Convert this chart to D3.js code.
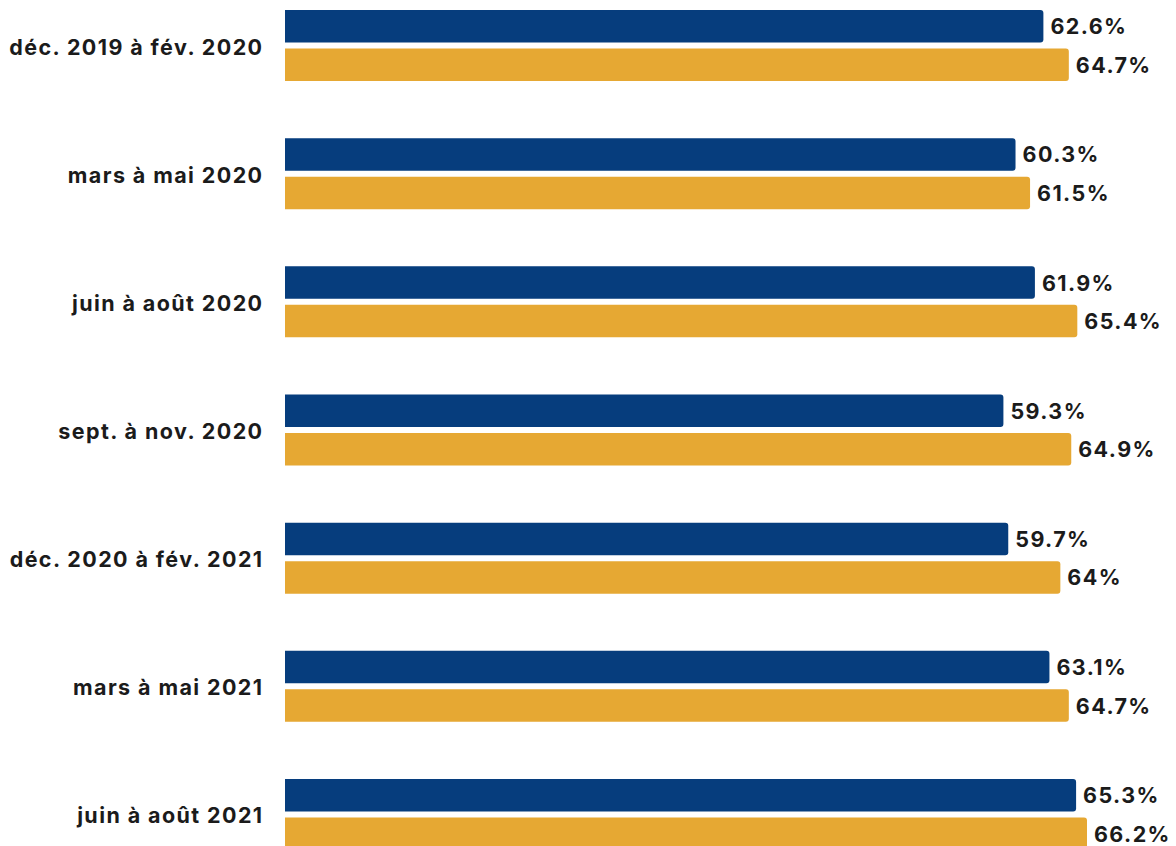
<!DOCTYPE html>
<html lang="fr">
<head>
<meta charset="utf-8">
<script src="https://cdn.jsdelivr.net/npm/d3@7"></script>
<style>
  html, body { margin: 0; padding: 0; background: #ffffff; }
  svg { display: block; }
  text { font-family: Inter, "Noto Sans", sans-serif; font-weight: 700; fill: #1b1b1b; letter-spacing: 1.4px; }
</style>
</head>
<body>
<svg id="chart" width="1176" height="846"></svg>
<script>
// Périodes de trois mois
const periods = [
  "déc. 2019 à fév. 2020",
  "mars à mai 2020",
  "juin à août 2020",
  "sept. à nov. 2020",
  "déc. 2020 à fév. 2021",
  "mars à mai 2021",
  "juin à août 2021"
];
// Deux séries de taux (%)
const seriesKeys = ["a", "b"];
const seriesA = [62.6, 60.3, 61.9, 59.3, 59.7, 63.1, 65.3];
const seriesB = [64.7, 61.5, 65.4, 64.9, 64.0, 64.7, 66.2];
const colors = { a: "#063d7d", b: "#e6a833" };

const fmt = v => (Number.isInteger(v) ? d3.format("d")(v) : d3.format(".1f")(v)) + "%";

const rows = periods.map((p, i) => ({ period: p, a: seriesA[i], b: seriesB[i] }));

const svg = d3.select("#chart");
const left = 285;

const x = d3.scaleLinear().domain([0, 66.2]).range([left, 1087]);
const y = d3.scaleBand().domain(periods).range([10, 850]).paddingInner(0.446).paddingOuter(0).align(0);
const y1 = d3.scaleBand().domain(seriesKeys).range([0, y.bandwidth()]).paddingInner(0.156).paddingOuter(0);

// Barre avec coins arrondis à droite seulement
function barPath(x0, x1, yTop, h, r) {
  const p = d3.path();
  p.moveTo(x0, yTop);
  p.lineTo(x1 - r, yTop);
  p.arcTo(x1, yTop, x1, yTop + r, r);
  p.lineTo(x1, yTop + h - r);
  p.arcTo(x1, yTop + h, x1 - r, yTop + h, r);
  p.lineTo(x0, yTop + h);
  p.closePath();
  return p.toString();
}

const groups = svg.selectAll("g.group")
  .data(rows)
  .join("g")
  .attr("class", "group")
  .attr("transform", d => `translate(0,${y(d.period)})`);

groups.append("text")
  .attr("x", left - 21.5)
  .attr("y", y.bandwidth() / 2 + 1)
  .attr("text-anchor", "end")
  .attr("dominant-baseline", "central")
  .style("font-size", "21.5px")
  .text(d => d.period);

const bars = groups.selectAll("g.bar")
  .data(d => seriesKeys.map(k => ({ key: k, value: d[k] })))
  .join("g")
  .attr("class", "bar");

bars.append("path")
  .attr("d", d => barPath(x(0), x(d.value), y1(d.key), y1.bandwidth(), 3))
  .attr("fill", d => colors[d.key]);

bars.append("text")
  .attr("x", d => x(d.value) + 7)
  .attr("y", d => y1(d.key) + y1.bandwidth() / 2)
  .attr("dominant-baseline", "central")
  .style("font-size", "21.5px")
  .text(d => fmt(d.value));
</script>
</body>
</html>
